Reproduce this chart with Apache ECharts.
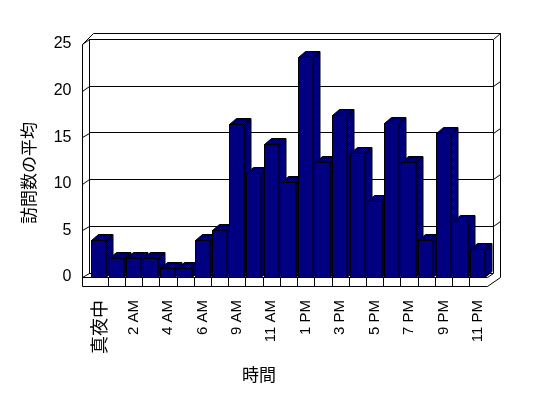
<!DOCTYPE html>
<html>
<head>
<meta charset="utf-8">
<script src="https://cdn.jsdelivr.net/npm/echarts@6/dist/echarts.min.js"></script>
<style>
  html, body { margin: 0; background: #fff; }
  #chart { width: 548px; height: 398px; }
</style>
</head>
<body>
<div id="chart"></div>
<script>
// 時間帯ごとの訪問数の平均
const hours = ["真夜中", "1 AM", "2 AM", "3 AM", "4 AM", "5 AM", "6 AM", "7 AM",
  "9 AM", "10 AM", "11 AM", "正午", "1 PM", "2 PM", "3 PM", "4 PM", "5 PM",
  "6 PM", "7 PM", "8 PM", "9 PM", "10 PM", "11 PM"];
const visits = [4, 2, 2, 2, 1, 1, 4, 5, 16.4, 11.2, 14.3, 10.2, 23.6, 12.3,
  17.4, 13.3, 8.2, 16.5, 12.3, 4, 15.4, 6, 3];
const yTicks = [0, 5, 10, 15, 20, 25];

const FONT = "'Liberation Sans', 'Noto Sans CJK JP', sans-serif";
const DX = 7, DY = 6; // 奥行き

// 網掛け（ディザ）模様
const dither = document.createElement("canvas");
dither.width = 2;
dither.height = 2;
let dctx = dither.getContext("2d");
dctx.fillStyle = "#000";
dctx.fillRect(0, 0, 2, 2);
dctx.fillStyle = "#000080";
dctx.fillRect(0, 0, 1, 1);
dctx.fillRect(1, 1, 1, 1);
const ditherFill = { image: dither, repeat: "repeat" };

function renderBar(params, api) {
  let base = api.coord([api.value(0), 0]);
  let top = api.coord([api.value(0), api.value(1)]);
  let bw = api.size([1, 0])[0];
  let x0 = Math.round(base[0] - bw / 2 + bw * 0.05) + 0.5;
  let x1 = Math.round(x0 + bw * 0.84);
  let yb = Math.round(base[1]) + 0.5;
  let yt = Math.round(top[1]) + 0.5;
  return {
    type: "group",
    children: [
      {
        type: "polygon",
        shape: { points: [[x1, yt], [x1 + DX, yt - DY], [x1 + DX, yb - DY], [x1, yb]] },
        style: { fill: ditherFill, stroke: "#000", lineWidth: 1 },
      },
      {
        type: "polygon",
        shape: { points: [[x0, yt], [x0 + DX, yt - DY], [x1 + DX, yt - DY], [x1, yt]] },
        style: { fill: ditherFill, stroke: "#000", lineWidth: 1 },
      },
      {
        type: "rect",
        shape: { x: x0, y: yt, width: x1 - x0, height: yb - yt },
        style: { fill: "#000080", stroke: "#000", lineWidth: 1 },
      },
    ],
  };
}

var myChart = echarts.init(document.getElementById("chart"));
myChart.setOption({
  animation: false,
  backgroundColor: "#fff",
  textStyle: { fontFamily: FONT, color: "#000" },
  grid: [
    // 手前（棒）
    { left: 90.5, right: 61.5, top: 44, bottom: 121 },
    // 奥の壁（目盛線）
    { left: 89, right: 55, top: 39, bottom: 125 },
  ],
  xAxis: [
    {
      type: "category",
      gridIndex: 0,
      data: hours,
      axisLine: { show: false },
      axisTick: { show: false },
      axisLabel: {
        interval: 1,
        rotate: 90,
        margin: 23,
        fontSize: 15,
        color: "#000",
        fontFamily: FONT,
        formatter: function (value) {
          return /^[0-9]/.test(value) ? value : "{c|" + value + "}";
        },
        rich: { c: { fontSize: 18, fontFamily: "'Noto Sans CJK JP'", color: "#000" } },
      },
    },
    {
      type: "category",
      gridIndex: 1,
      data: hours,
      show: false,
    },
  ],
  yAxis: [
    {
      type: "value",
      gridIndex: 0,
      min: 0,
      max: 25,
      interval: 5,
      axisLine: { show: false },
      axisTick: { show: false },
      splitLine: { show: false },
      axisLabel: { fontSize: 16, margin: 19, color: "#000", fontFamily: FONT },
    },
    {
      type: "value",
      gridIndex: 1,
      min: 0,
      max: 25,
      interval: 5,
      axisLine: { show: false },
      axisTick: { show: false },
      axisLabel: { show: false },
      splitLine: { show: true, lineStyle: { color: "#000", width: 1 } },
    },
  ],
  series: [
    {
      type: "custom",
      xAxisIndex: 0,
      yAxisIndex: 0,
      renderItem: renderBar,
      encode: { x: 0, y: 1 },
      data: visits.map((v, i) => [i, v]),
      z: 5,
    },
  ],
});

// 枠線（3D の箱）
function px(v) { return Math.round(v) + 0.5; }
function line(x1, y1, x2, y2) {
  return {
    type: "line",
    z: 10,
    shape: { x1: px(x1), y1: px(y1), x2: px(x2), y2: px(y2) },
    style: { stroke: "#000", lineWidth: 1 },
    silent: true,
  };
}

let frontL = 90.5, frontR = 548 - 61.5;
let wallX = 82, backL = 89, backR = 493, outerR = 500, outerTop = 33, floorY = 286;
let y0 = myChart.convertToPixel({ yAxisIndex: 0 }, 0);
let y25 = myChart.convertToPixel({ yAxisIndex: 0 }, 25);
let by0 = myChart.convertToPixel({ yAxisIndex: 1 }, 0);
let by25 = myChart.convertToPixel({ yAxisIndex: 1 }, 25);

let graphics = [];
// 左の壁
graphics.push(line(wallX, y25, wallX, floorY));
graphics.push(line(wallX, y25, wallX + 11, outerTop));
graphics.push(line(backL, by25, backL, by0));
// 奥の壁
graphics.push(line(wallX + 11, outerTop, outerR, outerTop));
graphics.push(line(backR, by25, backR, by0));
graphics.push(line(backR, by25, outerR, outerTop));
graphics.push(line(outerR, outerTop, outerR, y0));
// 床
graphics.push(line(wallX, y0, frontR, y0));
graphics.push(line(wallX, floorY, frontR, floorY));
graphics.push(line(frontR, floorY, outerR, y0));
graphics.push(line(frontR, y0, backR, by0));
// 値軸の目盛
for (let v of yTicks) {
  let fy = myChart.convertToPixel({ yAxisIndex: 0 }, v);
  let by = myChart.convertToPixel({ yAxisIndex: 1 }, v);
  graphics.push(line(wallX, fy, backL, by));
  if (v > 0 && v < 25) graphics.push(line(backR, by, outerR, by - 5));
}
// 項目軸の目盛
let bw = (frontR - frontL) / hours.length;
for (let i = 1; i < hours.length; i++) {
  let x = frontL + i * bw;
  graphics.push(line(x, y0, x, floorY));
}
// 軸の名前
graphics.push({
  type: "text",
  z: 10,
  x: 29,
  y: 173,
  rotation: Math.PI / 2,
  style: {
    text: "訪問数の平均",
    font: "17px 'Noto Sans CJK JP'",
    fill: "#000",
    align: "center",
    verticalAlign: "middle",
  },
});
graphics.push({
  type: "text",
  z: 10,
  x: 259,
  y: 375,
  style: {
    text: "時間",
    font: "17px 'Noto Sans CJK JP'",
    fill: "#000",
    align: "center",
    verticalAlign: "middle",
  },
});
myChart.setOption({ graphic: graphics });
</script>
</body>
</html>
